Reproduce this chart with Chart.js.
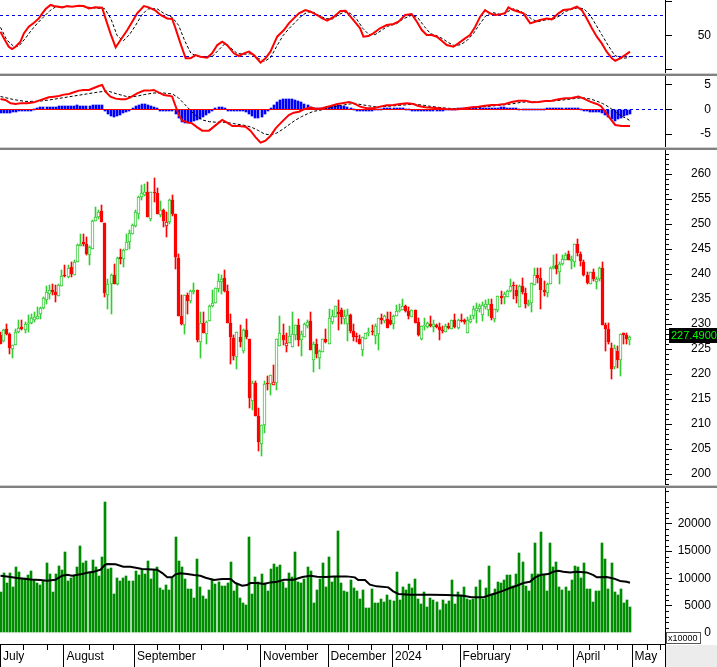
<!DOCTYPE html>
<html>
<head>
<meta charset="utf-8">
<title>Chart</title>
<script src="https://cdn.jsdelivr.net/npm/chart.js@4.4.1/dist/chart.umd.min.js"></script>
<style>
  html, body { margin: 0; padding: 0; background: #fff; }
  #wrap { position: relative; width: 717px; height: 667px; overflow: hidden; background: #fff; }
  #wrap canvas { position: absolute; left: 0; }
  .sep { position: absolute; left: 0; width: 717px; }
</style>
</head>
<body>
<div id="wrap">
  <canvas id="rsiChart" style="top:0px"></canvas>
  <div class="sep" style="top:73px;height:1px;background:#d0d0d0"></div>
  <div class="sep" style="top:74px;height:2px;background:#808080"></div>
  <canvas id="macdChart" style="top:76px"></canvas>
  <div class="sep" style="top:147px;height:1px;background:#d0d0d0"></div>
  <div class="sep" style="top:148px;height:2px;background:#808080"></div>
  <canvas id="priceChart" style="top:150px"></canvas>
  <div class="sep" style="top:485px;height:1px;background:#d0d0d0"></div>
  <div class="sep" style="top:486px;height:2px;background:#808080"></div>
  <canvas id="volumeChart" style="top:488px"></canvas>
</div>
<script>
// ==========================================================================
// DATA (one entry per trading day, July 2023 -> end of April 2024)
// ==========================================================================
const openP = [
  227.8,226.7,229.0,228.0,225.1,225.9,228.5,229.4,228.9,230.0,
  230.3,230.9,231.1,232.1,233.3,234.9,236.1,236.9,236.4,235.7,
  237.7,239.9,239.5,241.4,239.9,242.5,245.7,246.4,246.0,243.9,
  245.1,250.6,251.5,252.6,250.2,235.9,238.1,239.8,238.0,243.4,
  243.1,244.9,246.4,248.1,249.7,252.1,255.3,255.8,256.4,251.1,
  256.4,256.2,251.9,252.8,249.7,250.3,254.9,252.0,243.3,231.6,
  229.9,235.9,234.7,236.4,236.8,226.5,230.3,228.1,230.7,233.7,
  234.3,237.1,238.5,239.2,236.6,230.2,227.2,223.5,227.5,224.6,
  228.9,227.0,214.6,218.3,211.7,206.0,209.9,218.3,218.0,217.9,
  218.3,225.7,227.8,225.7,226.3,225.5,227.9,229.8,226.8,227.3,
  229.6,230.6,222.9,226.1,223.3,224.5,227.1,226.1,230.5,231.5,
  232.4,232.8,231.1,230.1,231.8,228.6,227.5,227.1,224.9,227.1,
  228.3,228.6,227.7,228.1,231.3,230.6,231.1,230.8,230.1,231.7,
  232.7,232.8,233.6,232.7,231.5,232.8,230.4,227.0,229.7,229.5,
  230.1,229.5,229.8,229.5,228.8,228.5,229.6,229.1,230.8,229.3,
  230.9,230.8,228.3,230.5,231.6,232.7,233.1,231.9,233.5,232.8,
  234.0,231.1,232.8,235.6,235.5,235.5,236.6,237.8,236.9,233.5,
  237.6,236.3,233.8,234.3,237.9,239.8,239.3,236.8,236.3,238.0,
  241.3,241.8,240.5,242.0,242.9,244.0,242.7,242.3,246.0,244.1,
  242.4,239.8,238.1,240.5,238.5,239.0,241.3,229.8,229.0,225.3,
  221.5,224.6,222.8,228.2,227.8,226.9
];
const highP = [
  228.5,229.0,230.1,228.3,225.9,229.0,230.8,230.8,230.5,231.8,
  232.0,232.3,233.5,233.5,235.5,237.6,237.8,238.1,237.8,238.0,
  240.8,241.8,241.8,242.5,242.8,246.1,248.0,248.0,247.3,245.6,
  250.8,253.5,252.9,253.8,250.2,239.1,240.1,242.0,243.5,245.1,
  245.1,248.1,248.8,250.1,252.9,255.6,257.8,258.0,258.5,256.4,
  259.1,257.1,254.7,253.1,252.5,255.1,255.8,252.0,244.0,235.8,
  235.9,236.3,236.8,238.3,236.9,232.4,232.3,230.7,233.9,236.8,
  237.2,240.1,239.8,240.8,237.8,232.0,227.8,228.5,229.8,229.1,
  231.0,227.1,218.7,218.7,213.3,209.8,218.7,219.6,219.8,221.8,
  227.1,231.7,230.0,228.3,229.6,232.4,229.8,231.1,228.7,230.3,
  230.9,232.3,226.5,227.0,224.9,227.1,229.0,233.0,232.9,233.7,
  234.8,233.2,232.9,233.0,232.0,230.1,228.3,227.8,227.5,228.3,
  229.3,229.9,230.1,231.3,232.1,231.8,232.3,232.5,231.8,233.8,
  234.1,235.0,233.8,233.5,232.8,232.8,231.3,229.6,231.3,230.5,
  231.6,230.8,230.1,230.3,229.7,230.0,230.3,230.9,232.0,231.1,
  232.0,231.1,231.5,231.8,233.7,234.3,234.1,234.5,234.8,235.1,
  235.0,233.0,235.6,236.7,236.5,236.8,239.0,238.5,237.9,237.8,
  239.3,237.3,234.9,238.3,241.3,241.3,241.3,238.6,238.3,241.5,
  243.8,244.0,242.3,243.9,244.3,244.6,243.6,246.0,247.0,244.4,
  242.8,240.5,240.5,241.0,239.5,241.5,242.4,230.3,230.2,226.3,
  225.9,225.7,228.1,228.3,228.2,227.6
];
const lowP = [
  226.0,226.5,227.8,224.1,223.3,225.9,228.3,228.8,228.3,228.5,
  230.1,230.5,231.1,231.1,233.1,234.1,235.1,235.8,234.5,235.7,
  237.7,239.5,239.3,239.5,239.9,242.5,245.7,245.6,243.8,241.8,
  245.1,250.6,251.1,250.3,235.5,233.0,232.0,238.0,237.8,242.1,
  241.5,244.9,245.1,248.0,249.5,251.1,254.9,255.6,251.5,250.7,
  254.5,252.0,251.5,249.5,247.5,250.1,251.6,241.1,231.7,229.8,
  228.1,232.0,234.3,236.1,226.5,223.3,228.3,226.1,230.7,233.5,
  234.3,236.5,236.0,236.5,230.3,222.0,222.8,221.1,225.5,224.3,
  227.1,213.3,212.9,211.7,204.7,203.7,208.3,216.8,215.9,217.8,
  216.8,225.7,225.8,224.5,226.3,225.5,226.8,225.7,223.7,227.3,
  229.3,224.8,220.5,223.3,221.1,224.5,226.3,226.1,230.1,231.5,
  228.9,230.1,230.1,226.6,228.3,226.6,226.5,226.0,223.6,227.1,
  227.6,227.9,226.1,224.8,230.1,230.3,229.3,229.8,229.1,231.7,
  232.3,232.8,232.3,231.0,231.5,230.3,227.6,226.8,228.8,229.3,
  229.5,228.5,229.3,226.8,228.3,228.5,229.1,229.0,229.3,229.0,
  230.4,230.0,228.3,230.3,231.1,230.3,232.5,230.6,233.1,231.6,
  230.8,230.5,232.5,234.1,234.0,235.5,236.5,235.1,234.3,233.5,
  236.1,233.3,233.7,232.3,237.9,238.3,233.0,235.6,235.5,238.0,
  241.1,240.0,238.0,241.9,242.8,242.8,241.1,241.5,243.6,241.6,
  239.7,238.1,238.0,238.7,237.1,238.7,229.9,224.7,226.1,219.0,
  221.1,221.3,219.7,226.1,226.1,225.9
];
const closeP = [
  226.1,228.9,228.0,225.3,225.9,228.5,229.3,229.0,230.1,230.3,
  231.2,231.5,231.7,233.2,235.2,236.5,236.9,236.4,235.8,237.8,
  239.7,239.6,241.3,240.0,242.5,245.8,246.1,246.1,244.0,245.3,
  250.6,251.5,252.5,250.3,236.3,238.1,239.8,238.1,243.3,243.0,
  244.9,246.5,248.3,249.8,252.3,255.5,256.1,256.4,251.5,256.4,
  256.2,252.1,252.8,250.7,250.4,254.9,252.0,243.5,231.7,230.0,
  235.9,234.7,236.6,236.8,226.8,230.3,228.3,230.5,233.7,234.3,
  237.2,238.6,239.1,236.7,230.3,227.3,223.7,228.5,226.5,228.9,
  227.3,215.3,218.3,211.7,206.5,209.8,218.1,218.0,219.8,218.4,
  227.1,228.3,226.8,226.3,227.6,228.0,229.8,226.8,228.0,230.0,
  230.5,224.8,226.1,224.1,224.7,227.1,226.5,231.3,231.6,233.7,
  232.1,231.5,231.7,231.8,228.6,227.5,227.3,226.1,227.3,228.3,
  228.5,228.4,229.6,231.3,230.8,231.6,229.3,230.1,231.7,232.7,
  232.9,233.6,232.7,231.7,232.8,230.3,227.8,229.6,229.9,230.3,
  229.7,230.0,229.5,228.8,228.6,229.6,229.3,230.8,229.5,230.8,
  230.7,230.5,230.8,231.1,233.0,233.2,233.6,233.8,234.0,234.1,
  231.3,233.0,235.6,235.3,236.0,236.7,237.7,237.6,235.7,237.6,
  236.5,234.0,234.3,238.3,239.8,239.3,236.8,236.5,238.1,241.3,
  241.7,241.1,242.1,243.0,243.9,242.9,243.1,246.0,244.3,242.7,
  239.9,238.3,240.5,239.0,239.1,241.3,229.9,229.1,226.5,221.1,
  225.3,222.8,228.0,227.9,227.1,227.49
];
const volumes = [
  7564,11041,9211,11041,8357,12139,11224,10065,10065,10675,
  11346,9699,9150,8845,9455,12871,10858,7564,10858,12322,
  11590,14884,9577,10126,10492,12139,15982,12871,13237,11224,
  13420,12139,10492,13969,24034,11773,11956,7198,10126,9577,
  10126,10492,9577,9577,11407,10675,11590,10858,13237,9943,
  11590,12139,8296,7930,8845,7930,10126,17629,13237,12139,
  9943,8113,8113,6466,13603,8479,6832,6283,7930,9943,
  9028,9394,8662,8662,9211,13054,7747,9028,6466,5551,
  5185,17629,7198,10309,9394,10858,9211,7747,11773,12688,
  12139,12505,9394,8296,11041,10309,14884,9394,9211,9943,
  12139,11407,5551,7930,9943,12871,8479,13847,9394,10187,
  18727,9211,7747,7564,9760,8296,7747,6283,7930,4636,
  4636,8113,5551,5551,6283,5734,7015,6100,5917,11224,
  6100,8479,7930,9028,8296,9943,6283,5368,7564,4819,
  6466,6100,5734,4270,6100,5368,5917,9760,5368,7564,
  7015,8479,6283,6100,6283,8479,9760,6283,8296,12322,
  7000,8113,9394,9211,9760,10675,10675,8662,10858,14701,
  13054,8662,7747,10858,16531,10858,18544,10675,7747,16531,
  12139,13054,8479,7930,8479,7747,9760,12322,12139,10126,
  12871,8113,8113,5734,7747,7747,16531,13603,8113,12871,
  7564,7015,8113,5551,6100,4819
];
// [bar index, value] pairs
const volMA = [[0,10490],[2.7,10310],[5.4,10070],[9.8,9820],[13,9700],[15.2,9580],[17.9,9760],[20.1,10490],[21.7,10680],[23.3,10490],[26.1,10740],[28.2,11040],[30.4,11220],[32.6,11590],[33.9,12440],[34.7,12630],[37.5,12570],[40,12140],[42.3,12140],[44.5,11900],[46.1,11710],[51,11590],[52.7,10980],[54.3,10190],[55.9,10190],[57,10740],[58.6,10920],[60.8,10800],[63,10610],[65.1,10490],[66.8,10130],[69.5,9700],[72.2,9880],[74.9,9880],[76.5,9150],[78.7,8660],[80.3,8780],[81.4,9150],[83.6,9150],[85.8,8970],[87.9,9270],[90.1,9390],[92.3,9760],[95.5,9760],[98.3,10250],[101,10490],[103.1,10310],[105.9,10250],[108.6,10370],[112.7,10370],[115.4,10190],[116.5,9700],[118.7,9700],[120.3,8850],[122.5,8540],[126.3,8360],[127.9,7630],[129.6,7140],[133.4,7020],[139.9,7020],[145.3,6950],[150.7,6830],[153.4,6530],[157.2,6530],[159.4,6950],[161.6,7320],[163.8,7750],[165.9,8240],[168.1,8660],[170.3,9150],[172.4,9390],[174.1,10190],[176.2,10680],[178.4,10800],[180,11220],[181.7,11410],[183.3,11220],[185.5,11100],[187.6,11220],[190.9,11100],[193.1,10610],[194.2,10190],[197.4,10250],[199.6,10000],[201.8,9520],[203.9,9390],[205,9210]];
const rsiLine = [[0,53.8],[1.1,47.4],[2.7,39.3],[3.8,37.0],[4.9,39.3],[6.5,44.1],[7.6,52.2],[9.2,58.7],[10.9,62.5],[12.5,66.7],[13.6,71.6],[14.7,75.8],[16.3,79.7],[17.4,78.7],[20.1,77.4],[21.7,78.7],[23.3,78.0],[25.5,79.0],[27.1,78.7],[28.8,76.4],[30.9,77.4],[33.1,77.1],[34.2,66.7],[35.8,52.2],[37.5,38.7],[39.1,45.8],[41.3,55.4],[42.9,63.5],[44.5,71.6],[46.7,78.7],[48.3,77.4],[50.5,74.2],[52.1,70.0],[54.3,66.7],[55.9,66.1],[57.0,57.1],[58.6,42.5],[60.3,28.0],[61.9,28.0],[63.5,31.2],[65.1,29.6],[67.3,28.7],[68.9,32.9],[70.6,40.9],[72.2,44.1],[73.8,40.9],[76.0,32.9],[77.6,30.3],[79.3,32.9],[80.9,34.5],[82.5,31.2],[84.7,23.8],[86.3,28.0],[87.9,34.5],[90.1,49.0],[92.3,55.4],[93.9,61.9],[95.5,66.7],[97.2,71.6],[99.3,74.8],[101.0,73.2],[103.1,70.0],[104.8,66.7],[106.4,64.5],[108.6,68.4],[110.7,73.8],[112.4,74.2],[114.0,68.4],[115.6,62.5],[117.1,57.1],[118.2,49.0],[119.8,49.6],[121.4,52.2],[123.6,57.1],[125.8,60.3],[128.0,61.3],[129.6,63.5],[131.8,70.0],[133.9,71.0],[135.6,63.5],[137.2,55.4],[138.8,50.6],[140.4,50.6],[142.1,49.0],[143.7,45.1],[145.3,40.9],[147.5,39.3],[149.1,42.5],[151.3,47.4],[152.9,50.6],[154.6,58.7],[156.2,68.4],[157.8,74.8],[159.4,71.6],[161.1,70.0],[162.7,70.6],[164.3,71.6],[165.4,77.4],[167.0,74.8],[168.7,73.2],[170.3,71.6],[171.4,66.7],[172.5,61.9],[174.1,63.5],[175.7,65.1],[177.9,66.7],[179.5,65.8],[181.7,71.6],[183.3,74.8],[185.5,75.5],[187.7,78.0],[189.3,74.8],[190.9,66.7],[192.6,57.1],[194.2,49.0],[195.8,42.5],[197.4,34.5],[199.1,28.0],[200.2,25.7],[201.8,28.0],[203.4,31.2],[205.0,34.5]];
const rsiSignal = [[0,58],[2,46],[4.5,39],[6,40],[8,47],[10,55],[12,62],[14,68],[16,74],[18,78],[22,78],[26,78.5],[30,77],[34,76],[36,66],[38,50],[40,45],[42,51],[44,60],[46,70],[48,76],[51,76],[53,72],[56,67.5],[58,60],[60,45],[62,33],[64,30],[67,29.5],[69,30],[71,36],[73,42],[75,38],[77,33],[79,32],[82,32.5],[84,28],[86,25],[88,29],[90,40],[92,50],[94,57],[96,63],[98,69],[100,73],[102,72.5],[104,69],[106,66.5],[108,66],[110,70],[112,73],[114,71.5],[116,66],[118,57],[120,51],[122,51],[124,55],[126,59],[129,61.5],[131,66],[134,70],[136,67],[138,59],[140,52],[142,50],[144,47],[146,43],[148,40],[150,41.5],[152,45.5],[154,52],[156,61],[158,69],[160,72.5],[163,70.5],[165,73],[167,76],[169,74],[171,71],[173,66],[175,63.5],[177,65],[180,66],[182,69],[184,73.5],[186,75.5],[188,77],[190,76],[192,70],[194,60],[196,50],[198,40],[200,31],[202,28],[204,28.5],[205,30]];
const macdLine = [[0,2.09],[1.6,1.89],[3.3,1.21],[4.9,1.08],[6.5,1.21],[8.7,1.21],[10.9,1.41],[12.5,1.75],[14.1,2.09],[15.7,2.43],[17.4,2.56],[19,2.70],[20.6,2.97],[22.3,3.10],[23.9,3.44],[25.5,3.78],[27.1,3.91],[28.8,3.91],[30.4,4.32],[32,4.72],[33.1,4.92],[34.2,3.57],[35.8,2.56],[37.5,2.16],[39.1,2.02],[40.7,2.02],[42.3,2.43],[44.5,3.24],[46.7,3.78],[48.3,3.78],[49.9,3.91],[51.6,3.37],[53.2,2.90],[54.8,2.76],[55.9,2.56],[57,0.67],[58.1,-1.15],[59.2,-2.30],[60.8,-2.63],[62.4,-2.84],[64.1,-3.65],[65.7,-4.32],[67.9,-4.32],[69.5,-3.51],[71.1,-2.70],[72.2,-2.16],[73.8,-2.70],[75.5,-3.38],[77.6,-3.38],[79.8,-3.51],[81.4,-4.32],[83.1,-5.67],[84.7,-6.75],[86.3,-6.35],[87.9,-5.40],[89.6,-3.85],[91.7,-2.50],[93.9,-1.15],[95.5,-0.68],[97.2,-0.48],[98.8,0],[101,0.34],[102.6,0.13],[104.2,0.13],[105.9,0.40],[107.5,0.67],[109.7,1.08],[111.3,1.21],[113.5,1.48],[115.1,1.21],[117.1,0.54],[119.3,0.20],[121.4,0.20],[123.6,0.54],[125.8,0.81],[128,0.87],[130.1,1.08],[132.3,1.21],[134.5,1.08],[136.1,0.67],[138.3,0.40],[140.4,0.33],[142.6,0.20],[144.8,0.07],[147,0],[149.1,0],[151.3,0.20],[153.5,0.40],[155.6,0.54],[157.8,0.74],[160,0.87],[162.2,0.94],[164.3,1.08],[166.5,1.48],[168.7,1.75],[170.9,1.75],[173,1.41],[175.2,1.48],[177.4,1.68],[179.5,1.75],[181.7,2.02],[183.9,2.22],[186,2.29],[188.2,2.56],[189.8,2.22],[192,1.55],[194.2,1.08],[195.5,0.67],[196.9,-0.47],[198.5,-1.83],[200.2,-3.17],[202.3,-3.38],[205,-3.38]];
const macdSignal = [[0,2.6],[4,2.0],[8,1.6],[12,1.6],[16,1.9],[20,2.3],[24,2.7],[28,3.1],[32,3.5],[35,3.7],[38,3.1],[41,2.6],[44,2.6],[47,3.0],[50,3.3],[53,3.3],[56,3.1],[58,2.3],[60,1.0],[62,-0.3],[64,-1.5],[66,-2.2],[68,-2.5],[70,-2.6],[72,-2.6],[74,-2.7],[76,-2.9],[78,-3.1],[80,-3.3],[82,-3.7],[84,-4.3],[86,-5.0],[88,-5.2],[90,-4.8],[92,-4.0],[94,-3.1],[96,-2.2],[98,-1.5],[100,-0.9],[102,-0.4],[104,-0.2],[106,0.1],[108,0.4],[110,0.7],[112,0.9],[114,1.1],[116,1.1],[118,0.9],[120,0.7],[122,0.5],[124,0.5],[126,0.6],[128,0.7],[130,0.8],[132,0.9],[134,1.0],[136,0.95],[138,0.8],[140,0.6],[142,0.45],[144,0.3],[146,0.2],[148,0.1],[150,0.1],[152,0.15],[154,0.3],[156,0.45],[158,0.55],[160,0.65],[162,0.8],[164,0.9],[166,1.05],[168,1.25],[170,1.45],[172,1.5],[174,1.5],[176,1.55],[178,1.6],[180,1.7],[182,1.8],[184,1.95],[186,2.1],[188,2.25],[190,2.3],[192,2.1],[194,1.7],[196,1.2],[198,0.5],[200,-0.4],[202,-1.3],[204,-1.9],[205,-2.3]];
const macdHist = [
  -0.7,-0.8,-0.8,-0.7,-0.6,-0.5,-0.4,-0.3,-0.2,-0.15,-0.1,
  0.1,0.3,0.4,0.45,0.5,0.55,0.55,0.55,0.6,0.6,0.6,0.6,0.65,0.75,0.8,0.7,0.6,0.6,0.7,0.8,0.85,0.85,0.8,
  -0.3,-0.9,-1.3,-1.5,-1.4,-1.1,-0.8,-0.5,-0.2,
  0.3,0.6,0.9,1.0,1.1,0.9,0.7,0.5,0.2,
  -0.2,-0.3,-0.3,-0.3,-0.4,
  -1.0,-1.8,-2.5,-2.8,-2.7,-2.6,-2.4,-2.2,-2.0,-1.6,-1.2,-0.8,-0.3,
  0.3,0.4,0.4,0.2,
  -0.2,-0.3,-0.4,-0.4,-0.3,-0.3,
  -0.5,-1.0,-1.4,-1.7,-1.8,-1.5,-0.9,-0.3,
  0.3,0.9,1.4,1.8,2.0,2.0,2.0,2.0,1.9,1.7,1.4,1.1,0.8,0.5,0.3,
  0.2,0.2,0.2,0.3,
  0.4,0.6,0.8,0.8,0.7,0.6,0.5,0.3,0.1,
  -0.2,-0.3,-0.3,-0.2,-0.15,-0.1,0.05,0.1,
  0.15,0.2,0.25,0.3,0.3,0.3,0.25,0.2,0.15,0.1,
  -0.1,-0.15,
  -0.25,-0.3,-0.3,-0.3,-0.25,-0.2,-0.15,-0.1,-0.05,
  0.05,0.1,0.15,0.15,0.2,
  0.2,0.25,0.3,0.35,0.4,0.4,0.4,0.35,0.35,0.3,0.3,0.3,0.35,0.4,0.4,0.35,0.3,0.25,0.2,
  0.15,0.1,0.05,0.05,0.1,0.1,0.1,0.15,0.15,0.2,0.25,0.3,
  0.3,0.35,0.35,0.35,0.3,0.3,0.25,0.2,0.1,
  -0.1,-0.3,-0.5,-0.6,-0.6,-0.5,
  -0.8,-1.2,-1.6,-2.0,-2.3,-2.0,-1.7,-1.4,-1.1,-0.9
];
const lastClose = 227.49;

// axis ticks
const monthNames = ['July', 'August', 'September', 'November', 'December', '2024', 'February', 'April', 'May'];
const monthTicks = [-0.163, 20.5, 43.5, 84.5, 106.5, 127.5, 149.5, 186.5, 205.5];
const weekTicks = [7.2, 15, 28.9, 36.7, 50.9, 58.2, 65.2, 72.6, 80.2, 92.7, 99.7, 113.3, 120.5, 132.8, 138.5, 143.9, 155.1, 160.5, 166, 171.4, 176.3, 181.2, 191.5, 196.4, 200.7, 210.5, 214.8];
const priceTicks = [200, 205, 210, 215, 220, 225, 230, 235, 240, 245, 250, 255, 260];
const volumeTicks = [0, 5000, 10000, 15000, 20000];
const macdTicks = [-5, 0, 5];
const rsiTicks = [17, 50, 83];
const rsiLevels = [30, 70];

document.addEventListener("DOMContentLoaded", function() {

    // ==========================================================================
    // 1. SHARED SETTINGS
    // ==========================================================================
    Chart.defaults.font.family = "'Liberation Sans', Arial, sans-serif";
    Chart.defaults.font.size = 12;
    Chart.defaults.color = '#000';

    const W = 717;
    const xMin = -0.163, xMax = 216.4;
    const green = '#32cd32', red = '#ff0000';
    const hiddenX = { type: 'linear', min: xMin, max: xMax, offset: false, display: false };
    const toPts = arr => arr.map(p => ({ x: p[0], y: p[1] }));

    // Chart.js adds tick padding / half label heights to the layout; drop it
    const noPad = s => { s.paddingTop = 0; s.paddingBottom = 0; s.paddingLeft = 0; s.paddingRight = 0; };

    // snap bar rectangles to whole pixels so thin candles stay crisp
    const snapBars = {
        id: 'snapBars',
        afterDatasetsUpdate(chart) {
            chart.data.datasets.forEach((ds, i) => {
                const meta = chart.getDatasetMeta(i);
                if (meta.type !== 'bar') return;
                meta.data.forEach(el => {
                    const w = Math.round(el.width);
                    el.width = w;
                    el.x = w % 2 ? Math.floor(el.x) + 0.5 : Math.round(el.x);
                    const top = Math.round(Math.min(el.y, el.base));
                    let bot = Math.round(Math.max(el.y, el.base));
                    if (bot - top < 1) bot = top + 1;
                    el.y = top; el.base = bot;
                });
            });
        }
    };

    // value axis on the right; labels end 6px short of the page edge
    function rightAxis(min, max, ticks, labelOf) {
        return {
            position: 'right', min: min, max: max, offset: false,
            afterFit: s => { s.width = 46; noPad(s); },
            afterBuildTicks: s => { s.ticks = ticks.map(v => ({ value: v })); },
            ticks: { callback: v => labelOf(v), crossAlign: 'far', padding: 0, autoSkip: false, color: '#000' },
            grid: { drawOnChartArea: false, drawTicks: true, tickLength: 7, tickColor: '#000' },
            border: { display: true, color: '#000' }
        };
    }

    function baseOptions(yAxis, xAxis) {
        return {
            responsive: false, animation: false, events: [],
            layout: { padding: { left: 0, top: 0, bottom: 0, right: 6 }, autoPadding: false },
            plugins: { legend: { display: false }, tooltip: { enabled: false } },
            scales: { x: xAxis || hiddenX, y: yAxis }
        };
    }

    function setup(id, h) {
        const c = document.getElementById(id);
        c.width = W; c.height = h;
        return c.getContext('2d');
    }

    function minorTicks(chart, values, len) {
        const ctx = chart.ctx, y = chart.scales.y, left = chart.chartArea.right;
        ctx.save();
        ctx.strokeStyle = '#000'; ctx.lineWidth = 1;
        ctx.beginPath();
        values.forEach(v => {
            const py = Math.round(y.getPixelForValue(v)) + 0.5;
            if (py < chart.chartArea.top || py > chart.chartArea.bottom) return;
            ctx.moveTo(left, py); ctx.lineTo(left + len, py);
        });
        ctx.stroke();
        ctx.restore();
    }

    // ==========================================================================
    // 2. RSI PANEL
    // ==========================================================================
    new Chart(setup('rsiChart', 73), {
        type: 'line',
        data: {
            datasets: [
                { data: toPts(rsiSignal), borderColor: '#000', borderWidth: 1, borderDash: [3, 2], pointRadius: 0, order: 2 },
                { data: toPts(rsiLine), borderColor: red, borderWidth: 2, pointRadius: 0, order: 1 }
            ]
        },
        options: baseOptions(rightAxis(13.83, 84.53, rsiTicks, v => v === 50 ? '50' : '')),
        plugins: [{
            id: 'rsiLevels',
            beforeDatasetsDraw(chart) {
                const { ctx, chartArea } = chart, y = chart.scales.y;
                ctx.save();
                ctx.strokeStyle = '#0000dd'; ctx.lineWidth = 1; ctx.setLineDash([3, 3]);
                rsiLevels.forEach(v => {
                    const py = Math.round(y.getPixelForValue(v)) + 0.5;
                    ctx.beginPath(); ctx.moveTo(chartArea.left, py); ctx.lineTo(chartArea.right, py); ctx.stroke();
                });
                ctx.restore();
            }
        }]
    });

    // ==========================================================================
    // 3. MACD PANEL
    // ==========================================================================
    new Chart(setup('macdChart', 71), {
        type: 'bar',
        data: {
            datasets: [
                { type: 'bar', data: macdHist.map((v, i) => ({ x: i, y: v })), backgroundColor: '#0000ff', barThickness: 2, order: 3 },
                { type: 'line', data: toPts(macdSignal), borderColor: '#000', borderWidth: 1, borderDash: [3, 2], pointRadius: 0, order: 2 },
                { type: 'line', data: toPts(macdLine), borderColor: red, borderWidth: 2, pointRadius: 0, order: 1 }
            ]
        },
        options: baseOptions(rightAxis(-7.63, 6.74, macdTicks, v => String(v))),
        plugins: [snapBars, {
            id: 'zeroLines',
            beforeDatasetsDraw(chart) {
                const { ctx, chartArea } = chart, y = chart.scales.y;
                const py = Math.round(y.getPixelForValue(0)) + 0.5;
                ctx.save();
                ctx.strokeStyle = '#0000dd'; ctx.lineWidth = 1; ctx.setLineDash([3, 3]);
                ctx.beginPath(); ctx.moveTo(chartArea.left, py); ctx.lineTo(chartArea.right, py); ctx.stroke();
                ctx.restore();
            },
            afterDatasetsDraw(chart) {
                const { ctx, chartArea } = chart, y = chart.scales.y, x = chart.scales.x;
                const py = Math.round(y.getPixelForValue(0)) + 0.5;
                ctx.save();
                ctx.strokeStyle = red; ctx.lineWidth = 1;
                ctx.beginPath(); ctx.moveTo(chartArea.left, py); ctx.lineTo(x.getPixelForValue(195.5), py); ctx.stroke();
                ctx.restore();
            }
        }]
    });

    // ==========================================================================
    // 4. PRICE PANEL (candles built from floating bars)
    // ==========================================================================
    const candleColor = closeP.map((c, i) => {
        const prev = i > 0 ? closeP[i - 1] : openP[i];
        return (c < openP[i] || c < prev) ? red : green;
    });
    const candleFill = closeP.map((c, i) => c > openP[i] ? '#ffffff' : candleColor[i]);

    new Chart(setup('priceChart', 335), {
        type: 'bar',
        data: {
            datasets: [
                { data: lowP.map((l, i) => ({ x: i, y: [l, highP[i]] })), backgroundColor: candleColor, barThickness: 1, grouped: false, order: 2 },
                { data: openP.map((o, i) => ({ x: i, y: [o, closeP[i]] })), backgroundColor: candleFill, borderColor: candleColor,
                  borderWidth: 1, borderSkipped: false, barThickness: 3, minBarLength: 1, grouped: false, order: 1 }
            ]
        },
        options: baseOptions(rightAxis(197.8, 264.8, priceTicks, v => String(v))),
        plugins: [snapBars, {
            id: 'priceExtras',
            afterDraw(chart) {
                const minor = [];
                for (let v = 198; v <= 264; v++) if (v % 5 !== 0) minor.push(v);
                minorTicks(chart, minor, 4);
                const { ctx, chartArea } = chart, y = chart.scales.y;
                const py = y.getPixelForValue(lastClose);
                ctx.save();
                ctx.fillStyle = '#000';
                ctx.fillRect(chartArea.right + 4, Math.round(py) - 9, W - chartArea.right - 4, 15);
                ctx.fillStyle = '#00ff00';
                ctx.font = "11px 'Liberation Sans', Arial, sans-serif";
                ctx.textBaseline = 'middle';
                ctx.fillText(lastClose.toFixed(4), chartArea.right + 6, Math.round(py) - 1);
                ctx.restore();
            }
        }]
    });

    // ==========================================================================
    // 5. VOLUME PANEL + DATE AXIS
    // ==========================================================================
    const dateAxis = {
        type: 'linear', min: xMin, max: xMax, offset: false, position: 'bottom',
        afterFit: s => { s.height = 23; noPad(s); },
        afterBuildTicks: s => { s.ticks = monthTicks.map(v => ({ value: v })); },
        ticks: { callback: (v, i) => monthNames[i], align: 'start', labelOffset: 3, padding: 5, maxRotation: 0, autoSkip: false, color: '#000' },
        grid: { drawOnChartArea: false, drawTicks: false },
        border: { display: true, color: '#000' }
    };

    new Chart(setup('volumeChart', 179), {
        type: 'bar',
        data: {
            datasets: [
                { type: 'bar', data: volumes.map((v, i) => ({ x: i, y: v })), backgroundColor: '#008c00', barThickness: 2, order: 2 },
                { type: 'line', data: toPts(volMA), borderColor: '#000', borderWidth: 2, pointRadius: 0, order: 1 }
            ]
        },
        options: baseOptions(rightAxis(-2015, 26557, volumeTicks, v => String(v)), dateAxis),
        plugins: [snapBars, {
            id: 'volumeExtras',
            afterDraw(chart) {
                const minor = [];
                for (let v = 1000; v <= 26000; v += 1000) if (v % 5000 !== 0) minor.push(v);
                minorTicks(chart, minor, 4);

                const { ctx, chartArea } = chart, x = chart.scales.x;
                const top = chartArea.bottom, H = chart.height, right = chartArea.right;
                ctx.save();
                // grey corner under the value axis
                ctx.fillStyle = '#ececec';
                ctx.fillRect(right + 1, top + 1, W - right - 1, H - top - 1);
                // month and week tick marks
                ctx.strokeStyle = '#000'; ctx.lineWidth = 1;
                ctx.beginPath();
                monthTicks.forEach(v => {
                    const px = Math.round(x.getPixelForValue(v)) + 0.5;
                    ctx.moveTo(px, top); ctx.lineTo(px, H);
                });
                weekTicks.forEach(v => {
                    const px = Math.round(x.getPixelForValue(v)) + 0.5;
                    ctx.moveTo(px, top); ctx.lineTo(px, top + 6);
                });
                const rx = Math.round(right) + 0.5;
                ctx.moveTo(rx, top); ctx.lineTo(rx, H);
                ctx.stroke();
                // scale factor box
                ctx.fillStyle = '#fff';
                ctx.fillRect(right + 1, top - 11, 34, 11);
                ctx.strokeStyle = '#555';
                ctx.strokeRect(right + 1.5, top - 11.5, 34, 11);
                ctx.fillStyle = '#000';
                ctx.font = "9px 'Liberation Sans', Arial, sans-serif";
                ctx.textBaseline = 'alphabetic';
                ctx.fillText('x10000', right + 3, top - 3);
                ctx.restore();
            }
        }]
    });
});
</script>
</body>
</html>
